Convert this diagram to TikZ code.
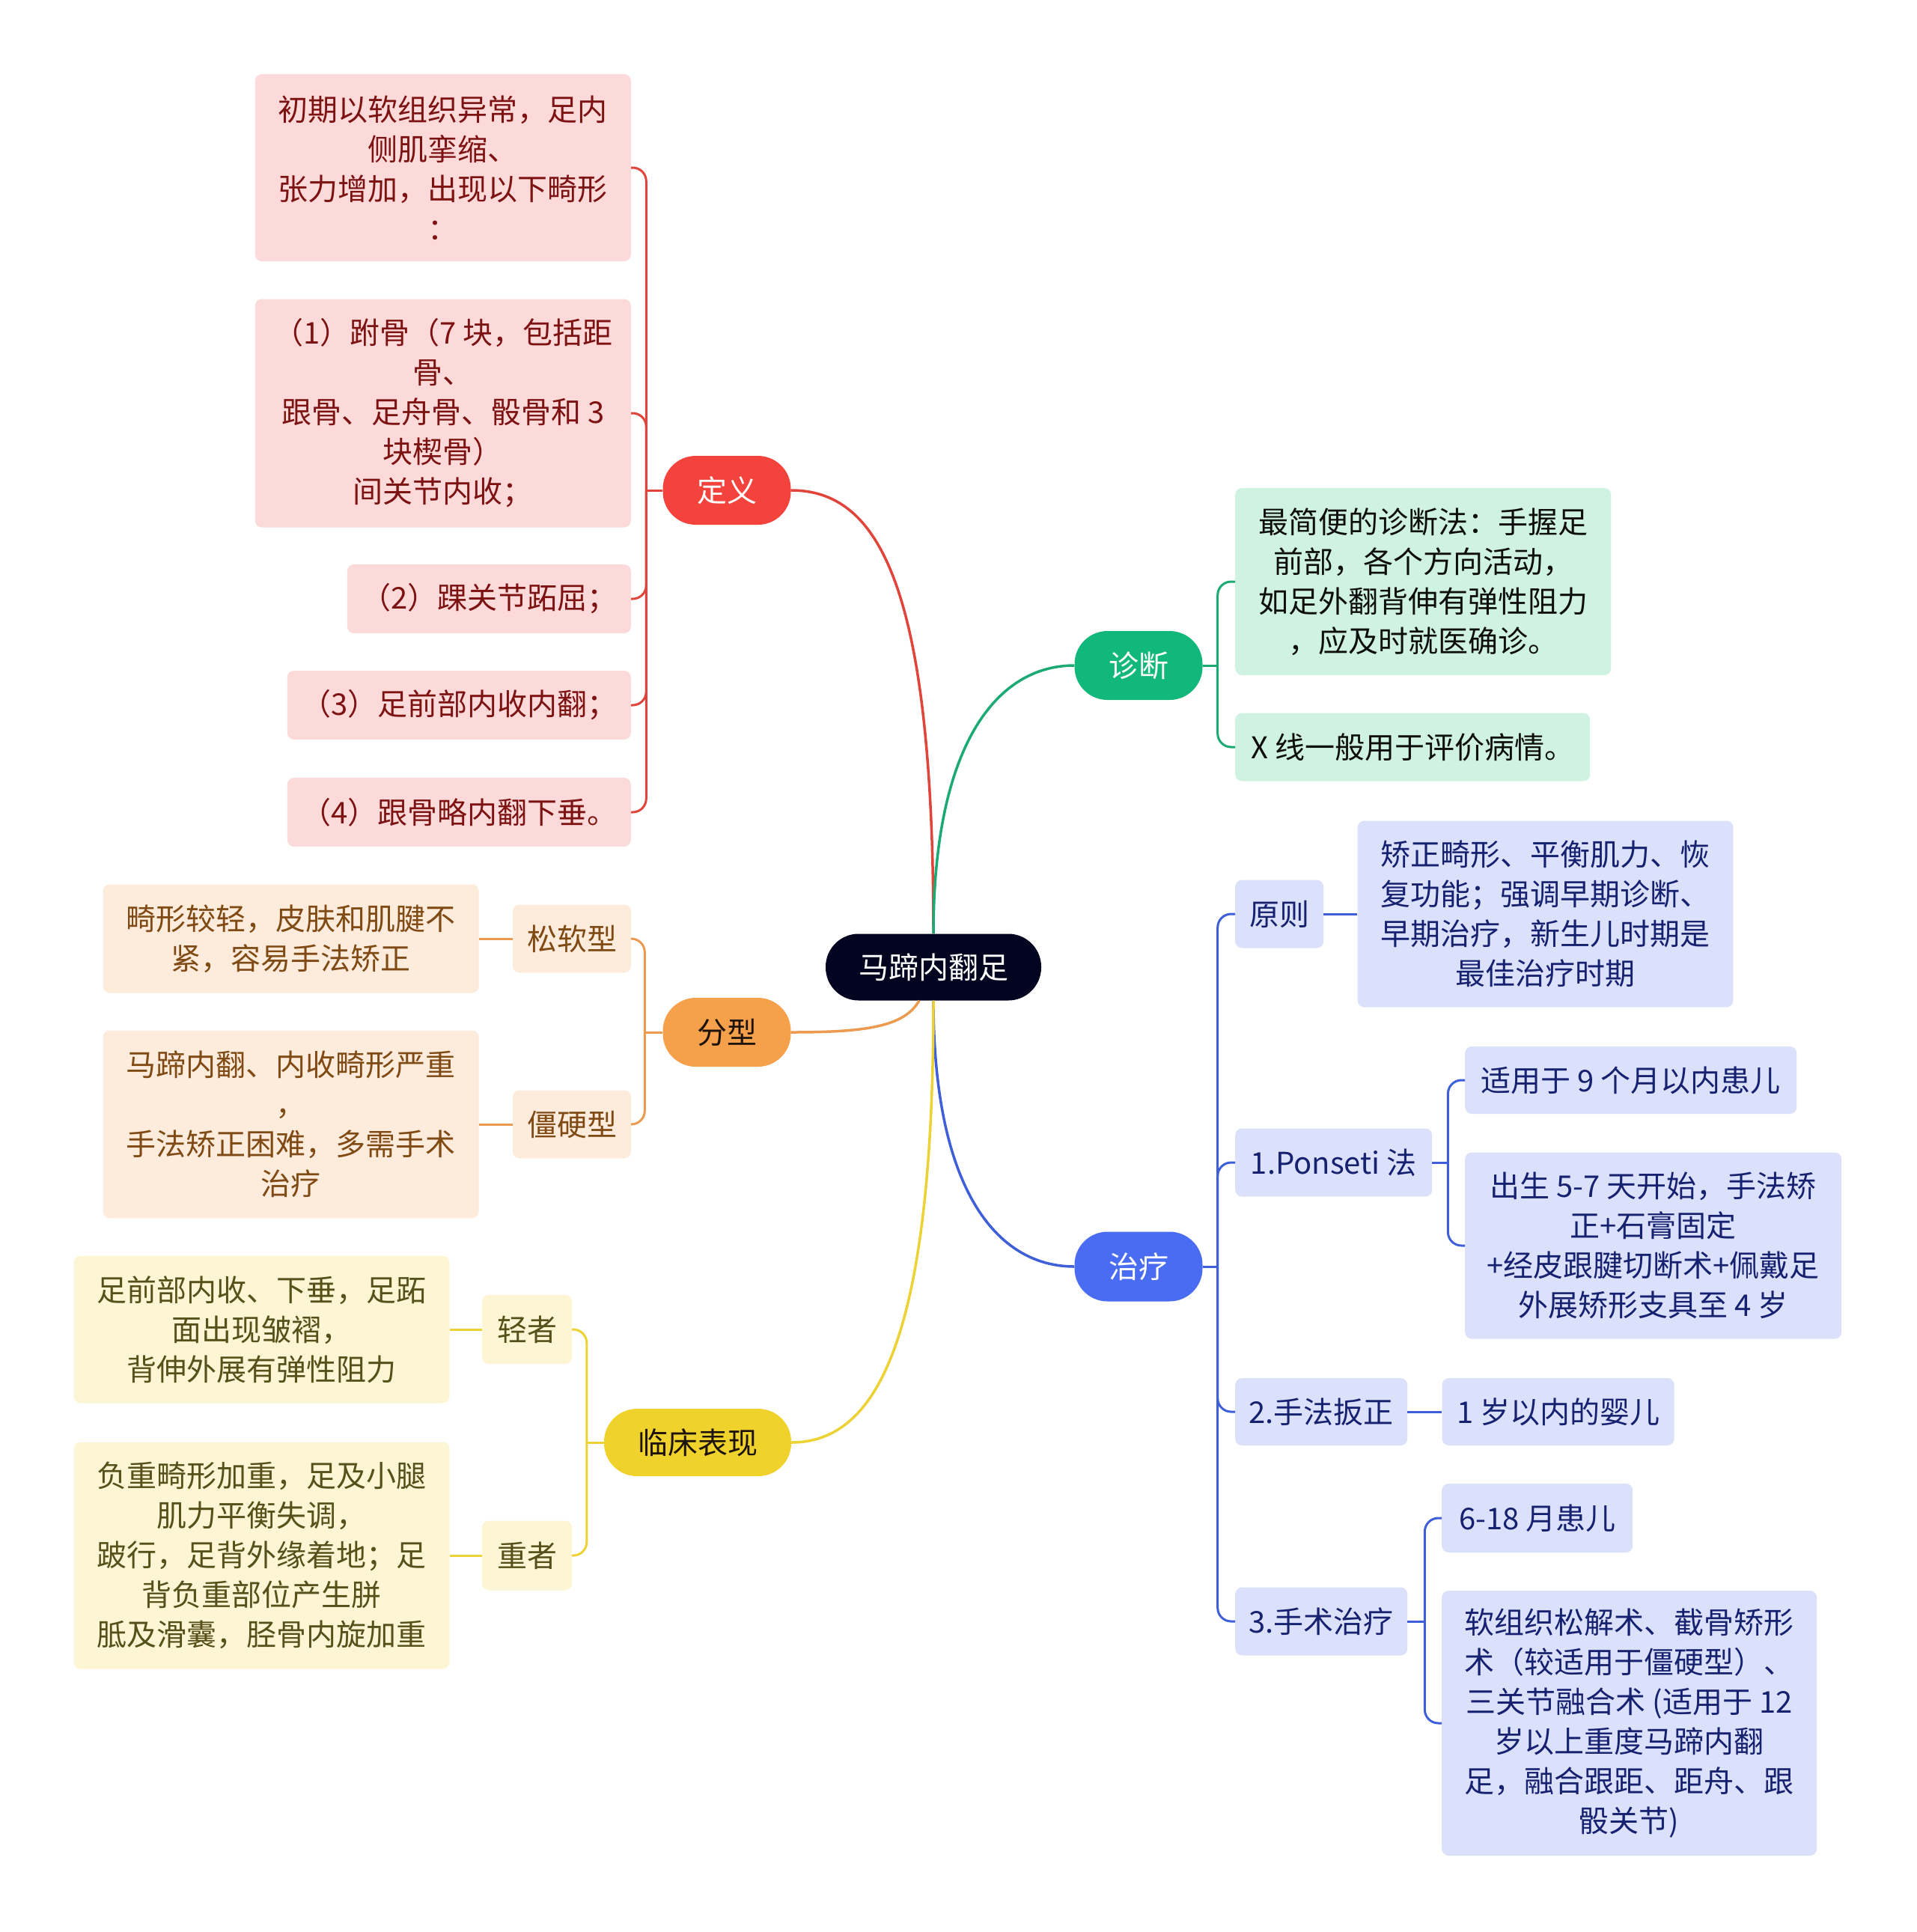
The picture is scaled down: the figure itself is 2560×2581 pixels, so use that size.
\documentclass[tikz,border=0pt]{standalone}
\usepackage{fontspec}
\setmainfont{Noto Sans CJK SC}
\usepackage{tikz}
\usetikzlibrary{positioning}
\definecolor{RootFill}{HTML}{03041F}
\definecolor{DefFill}{HTML}{F4433C}
\definecolor{FenFill}{HTML}{F5A04A}
\definecolor{LinFill}{HTML}{F0D22C}
\definecolor{ZhenFill}{HTML}{11B77B}
\definecolor{ZhiFill}{HTML}{4A6CF2}
\definecolor{PinkBox}{HTML}{FDDADA}
\definecolor{PinkText}{HTML}{7D1212}
\definecolor{PeachBox}{HTML}{FDEBDC}
\definecolor{PeachText}{HTML}{7F4A14}
\definecolor{CreamBox}{HTML}{FCF6D4}
\definecolor{CreamText}{HTML}{57501A}
\definecolor{MintBox}{HTML}{CFF2E2}
\definecolor{MintText}{HTML}{0E0E0E}
\definecolor{SkyBox}{HTML}{DCE1FB}
\definecolor{SkyText}{HTML}{162170}
\definecolor{RedLine}{HTML}{E0443A}
\definecolor{OrangeLine}{HTML}{EB9A50}
\definecolor{YellowLine}{HTML}{EDD235}
\definecolor{GreenLine}{HTML}{1BAA74}
\definecolor{BlueLine}{HTML}{3E5FD8}

\begin{document}
\begin{tikzpicture}[x=1pt,y=-1pt,font=\fontsize{40}{53}\selectfont]
\tikzstyle{main}=[rounded corners=44pt, inner sep=0pt, minimum width=171pt, minimum height=92pt, text=white]
\tikzstyle{leaf}=[rounded corners=9pt, align=center, inner sep=0pt]
\tikzstyle{pink}=[leaf, fill=PinkBox, text=PinkText]
\tikzstyle{peach}=[leaf, fill=PeachBox, text=PeachText]
\tikzstyle{cream}=[leaf, fill=CreamBox, text=CreamText]
\tikzstyle{mint}=[leaf, fill=MintBox, text=MintText]
\tikzstyle{sky}=[leaf, fill=SkyBox, text=SkyText]
\tikzstyle{trunk}=[line width=3.5pt]
\tikzstyle{twig}=[line width=3pt, rounded corners=18pt]
\useasboundingbox (0,0) rectangle (2560,2581);

\draw node at (1247,1292) [main, fill=RootFill, minimum width=288pt, minimum height=89pt] (Root) {马蹄内翻足};
\draw node at (971,655) [main, fill=DefFill] (Def) {定义};
\draw node at (971,1379) [main, fill=FenFill, text=black!85!brown] (Fen) {分型};
\draw node at (932,1927) [main, fill=LinFill, text=black!85!brown, minimum width=250pt, minimum height=90pt] (Lin) {临床表现};
\draw node at (1521,889) [main, fill=ZhenFill] (Zhen) {诊断};
\draw node at (1521,1692) [main, fill=ZhiFill, minimum height=93pt] (Zhi) {治疗};

\draw node at (843,224) [pink, anchor=east, minimum width=502pt, minimum height=250pt] (DefA) {初期以软组织异常，足内\\侧肌挛缩、\\张力增加，出现以下畸形\\：};
\draw node at (843,552) [pink, anchor=east, minimum width=502pt, minimum height=305pt] (DefB) {（1）跗骨（7 块，包括距\\骨、\\跟骨、足舟骨、骰骨和 3\\块楔骨）\\间关节内收；};
\draw node at (843,800) [pink, anchor=east, minimum width=379pt, minimum height=92pt] (DefC) {（2）踝关节跖屈；};
\draw node at (843,942) [pink, anchor=east, minimum width=459pt, minimum height=92pt] (DefD) {（3）足前部内收内翻；};
\draw node at (843,1085) [pink, anchor=east, minimum width=459pt, minimum height=92pt] (DefE) {（4）跟骨略内翻下垂。};

\draw node at (764,1254) [peach, minimum width=158pt, minimum height=91pt] (Soft) {松软型};
\draw node at (764,1502) [peach, minimum width=158pt, minimum height=91pt] (Stiff) {僵硬型};
\draw node [peach, left=45pt of Soft, minimum width=502pt, minimum height=145pt] (SoftNote) {畸形较轻，皮肤和肌腱不\\紧，容易手法矫正};
\draw node [peach, left=45pt of Stiff, minimum width=502pt, minimum height=251pt] (StiffNote) {马蹄内翻、内收畸形严重\\，\\手法矫正困难，多需手术\\治疗};

\draw node at (704,1776) [cream, minimum width=120pt, minimum height=92pt] (Mild) {轻者};
\draw node at (704,2078) [cream, minimum width=120pt, minimum height=93pt] (Severe) {重者};
\draw node [cream, left=43pt of Mild, minimum width=502pt, minimum height=197pt] (MildNote) {足前部内收、下垂，足跖\\面出现皱褶，\\背伸外展有弹性阻力};
\draw node [cream, left=43pt of Severe, minimum width=502pt, minimum height=303pt] (SevereNote) {负重畸形加重，足及小腿\\肌力平衡失调，\\跛行，足背外缘着地；足\\背负重部位产生胼\\胝及滑囊，胫骨内旋加重};

\draw node at (1650,777) [mint, anchor=west, minimum width=502pt, minimum height=250pt] (ZhenA) {最简便的诊断法：手握足\\前部，各个方向活动，\\如足外翻背伸有弹性阻力\\，应及时就医确诊。};
\draw node at (1650,998) [mint, anchor=west, minimum width=474pt, minimum height=91pt] (ZhenB) {X 线一般用于评价病情。};

\draw node at (1650,1221) [sky, anchor=west, minimum width=118pt, minimum height=91pt] (Rule) {原则};
\draw node [sky, right=45pt of Rule, minimum width=502pt, minimum height=249pt] (RuleNote) {矫正畸形、平衡肌力、恢\\复功能；强调早期诊断、\\早期治疗，新生儿时期是\\最佳治疗时期};
\draw node at (1650,1553) [sky, anchor=west, minimum width=263pt, minimum height=91pt] (Ponseti) {1.Ponseti 法};
\draw node at (1957,1443) [sky, anchor=west, minimum width=443pt, minimum height=90pt] (PonA) {适用于 9 个月以内患儿};
\draw node at (1957,1664) [sky, anchor=west, minimum width=503pt, minimum height=249pt] (PonB) {出生 5-7 天开始，手法矫\\正+石膏固定\\+经皮跟腱切断术+佩戴足\\外展矫形支具至 4 岁};
\draw node at (1650,1886) [sky, anchor=west, minimum width=230pt, minimum height=90pt] (Manual) {2.手法扳正};
\draw node [sky, right=46pt of Manual, minimum width=310pt, minimum height=90pt] (ManualNote) {1 岁以内的婴儿};
\draw node at (1650,2166) [sky, anchor=west, minimum width=230pt, minimum height=91pt] (Surgery) {3.手术治疗};
\draw node at (1926,2028) [sky, anchor=west, minimum width=255pt, minimum height=92pt] (SurA) {6-18 月患儿};
\draw node at (1926,2302) [sky, anchor=west, minimum width=501pt, minimum height=354pt] (SurB) {软组织松解术、截骨矫形\\术（较适用于僵硬型）、\\三关节融合术 (适用于 12\\岁以上重度马蹄内翻\\足，融合跟距、距舟、跟\\骰关节)};

\draw[trunk, RedLine] (Root.north) .. controls +(0,-470) and +(115,0) .. (Def.east);
\draw[trunk, GreenLine] (Root.north) .. controls +(0,-250) and +(-105,0) .. (Zhen.west);
\draw[trunk, BlueLine] (Root.south) .. controls +(0,250) and +(-105,0) .. (Zhi.west);
\draw[trunk, YellowLine] (Root.south) .. controls +(0,450) and +(115,0) .. (Lin.east);
\draw[trunk, OrangeLine] ([xshift=-19pt]Root.south) .. controls +(-20,35) and +(100,0) .. (Fen.east);

\draw[twig, RedLine] (Def.west) -- ++(-22,0) coordinate (DefFork);
\draw[twig, RedLine] (DefFork) |- (DefA.east);
\draw[twig, RedLine] (DefFork) |- (DefB.east);
\draw[twig, RedLine] (DefFork) |- (DefC.east);
\draw[twig, RedLine] (DefFork) |- (DefD.east);
\draw[twig, RedLine] (DefFork) |- (DefE.east);

\draw[twig, OrangeLine] (Fen.west) -- ++(-24,0) coordinate (FenFork);
\draw[twig, OrangeLine] (FenFork) |- (Soft.east);
\draw[twig, OrangeLine] (FenFork) |- (Stiff.east);
\draw[twig, OrangeLine] (Soft) -- (SoftNote);
\draw[twig, OrangeLine] (Stiff) -- (StiffNote);

\draw[twig, YellowLine] (Lin.west) -- ++(-23,0) coordinate (LinFork);
\draw[twig, YellowLine] (LinFork) |- (Mild.east);
\draw[twig, YellowLine] (LinFork) |- (Severe.east);
\draw[twig, YellowLine] (Mild) -- (MildNote);
\draw[twig, YellowLine] (Severe) -- (SevereNote);

\draw[twig, GreenLine] (Zhen.east) -- ++(20,0) coordinate (ZhenFork);
\draw[twig, GreenLine] (ZhenFork) |- (ZhenA.west);
\draw[twig, GreenLine] (ZhenFork) |- (ZhenB.west);

\draw[twig, BlueLine] (Zhi.east) -- ++(20,0) coordinate (ZhiFork);
\draw[twig, BlueLine] (ZhiFork) |- (Rule.west);
\draw[twig, BlueLine] (ZhiFork) |- (Ponseti.west);
\draw[twig, BlueLine] (ZhiFork) |- (Manual.west);
\draw[twig, BlueLine] (ZhiFork) |- (Surgery.west);
\draw[twig, BlueLine] (Rule) -- (RuleNote);
\draw[twig, BlueLine] (Manual) -- (ManualNote);
\draw[twig, BlueLine] (Ponseti.east) -- ++(21,0) coordinate (PonFork);
\draw[twig, BlueLine] (PonFork) |- (PonA.west);
\draw[twig, BlueLine] (PonFork) |- (PonB.west);
\draw[twig, BlueLine] (Surgery.east) -- ++(23,0) coordinate (SurFork);
\draw[twig, BlueLine] (SurFork) |- (SurA.west);
\draw[twig, BlueLine] (SurFork) |- (SurB.west);
\end{tikzpicture}
\end{document}
